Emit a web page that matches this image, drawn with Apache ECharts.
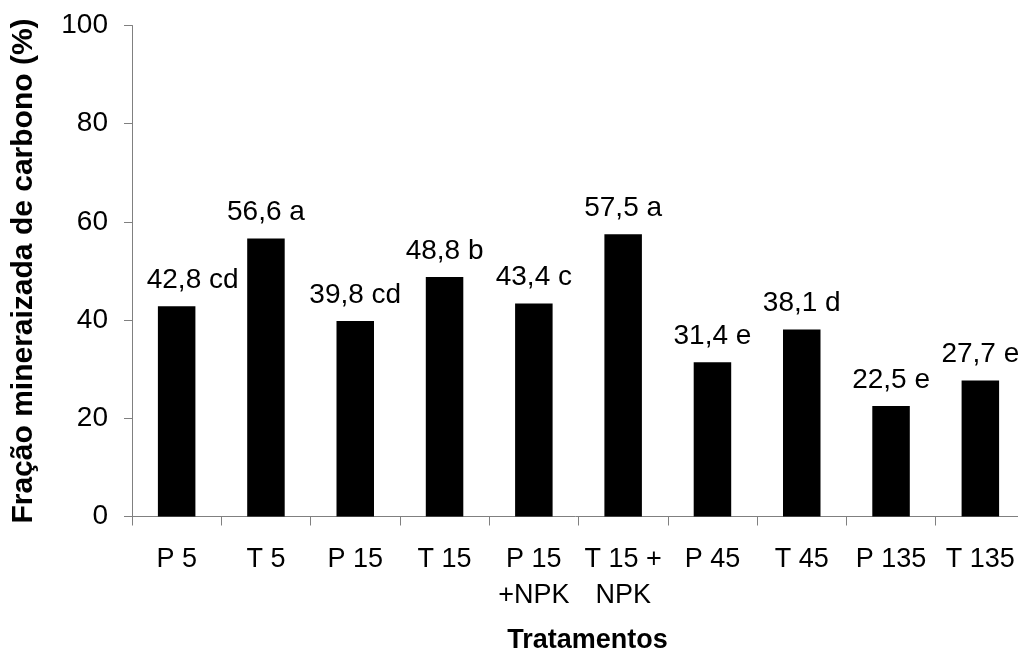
<!DOCTYPE html>
<html>
<head>
<meta charset="utf-8">
<script src="https://cdn.jsdelivr.net/npm/echarts@6/dist/echarts.min.js"></script>
<style>
html,body{margin:0;padding:0;background:#fff;}
#chart{width:1018px;height:655px;}
</style>
</head>
<body>
<div id="chart"></div>
<script>
const categories = ['P 5', 'T 5', 'P 15', 'T 15', 'P 15\n+NPK', 'T 15 +\nNPK', 'P 45', 'T 45', 'P 135', 'T 135'];
const values = [42.8, 56.6, 39.8, 48.8, 43.4, 57.5, 31.4, 38.1, 22.5, 27.7];
const letters = ['cd', 'a', 'cd', 'b', 'c', 'a', 'e', 'd', 'e', 'e'];
const yTicks = [0, 20, 40, 60, 80, 100];
const yTitle = 'Fração mineraizada de carbono (%)';
const xTitle = 'Tratamentos';

const font = 'Liberation Sans, Arial, sans-serif';
const chart = echarts.init(document.getElementById('chart'));
const barData = values.map(function (v, i) {
  // first label is nudged right in the original so it clears the y axis
  return i === 0 ? { value: v, label: { offset: [16, 0] } } : v;
});
chart.setOption({
  animation: false,
  backgroundColor: '#ffffff',
  grid: { left: 132, right: -7, top: 25.5, bottom: 138.5, containLabel: false, outerBoundsMode: 'none' },
  xAxis: {
    type: 'category',
    data: categories,
    boundaryGap: true,
    name: xTitle,
    nameLocation: 'middle',
    nameGap: 111,
    nameTextStyle: { fontFamily: font, fontSize: 27, fontWeight: 'bold', color: '#000', padding: [0, 0, 0, 18] },
    axisLine: { lineStyle: { color: '#808080', width: 1 } },
    axisTick: { show: true, length: 9, alignWithLabel: false, lineStyle: { color: '#808080' } },
    axisLabel: { fontFamily: font, fontSize: 27, color: '#000', margin: 25, lineHeight: 36, interval: 0 },
    splitLine: { show: false }
  },
  yAxis: {
    type: 'value',
    min: yTicks[0],
    max: yTicks[yTicks.length - 1],
    interval: yTicks[1] - yTicks[0],
    name: yTitle,
    nameLocation: 'middle',
    nameRotate: 90,
    nameGap: 93,
    nameTextStyle: { fontFamily: font, fontSize: 30, fontWeight: 'bold', color: '#000' },
    axisLine: { show: true, lineStyle: { color: '#808080', width: 1 } },
    axisTick: { show: true, length: 8, inside: false, lineStyle: { color: '#808080' } },
    axisLabel: { fontFamily: font, fontSize: 28, color: '#000', margin: 24 },
    splitLine: { show: false }
  },
  series: [{
    type: 'bar',
    data: barData,
    barWidth: '42%',
    itemStyle: { color: '#000000' },
    label: {
      show: true,
      position: 'top',
      distance: 12,
      fontFamily: font,
      fontSize: 28,
      color: '#000',
      formatter: function (p) { return String(values[p.dataIndex]).replace('.', ',') + ' ' + letters[p.dataIndex]; }
    }
  }]
});
</script>
</body>
</html>
